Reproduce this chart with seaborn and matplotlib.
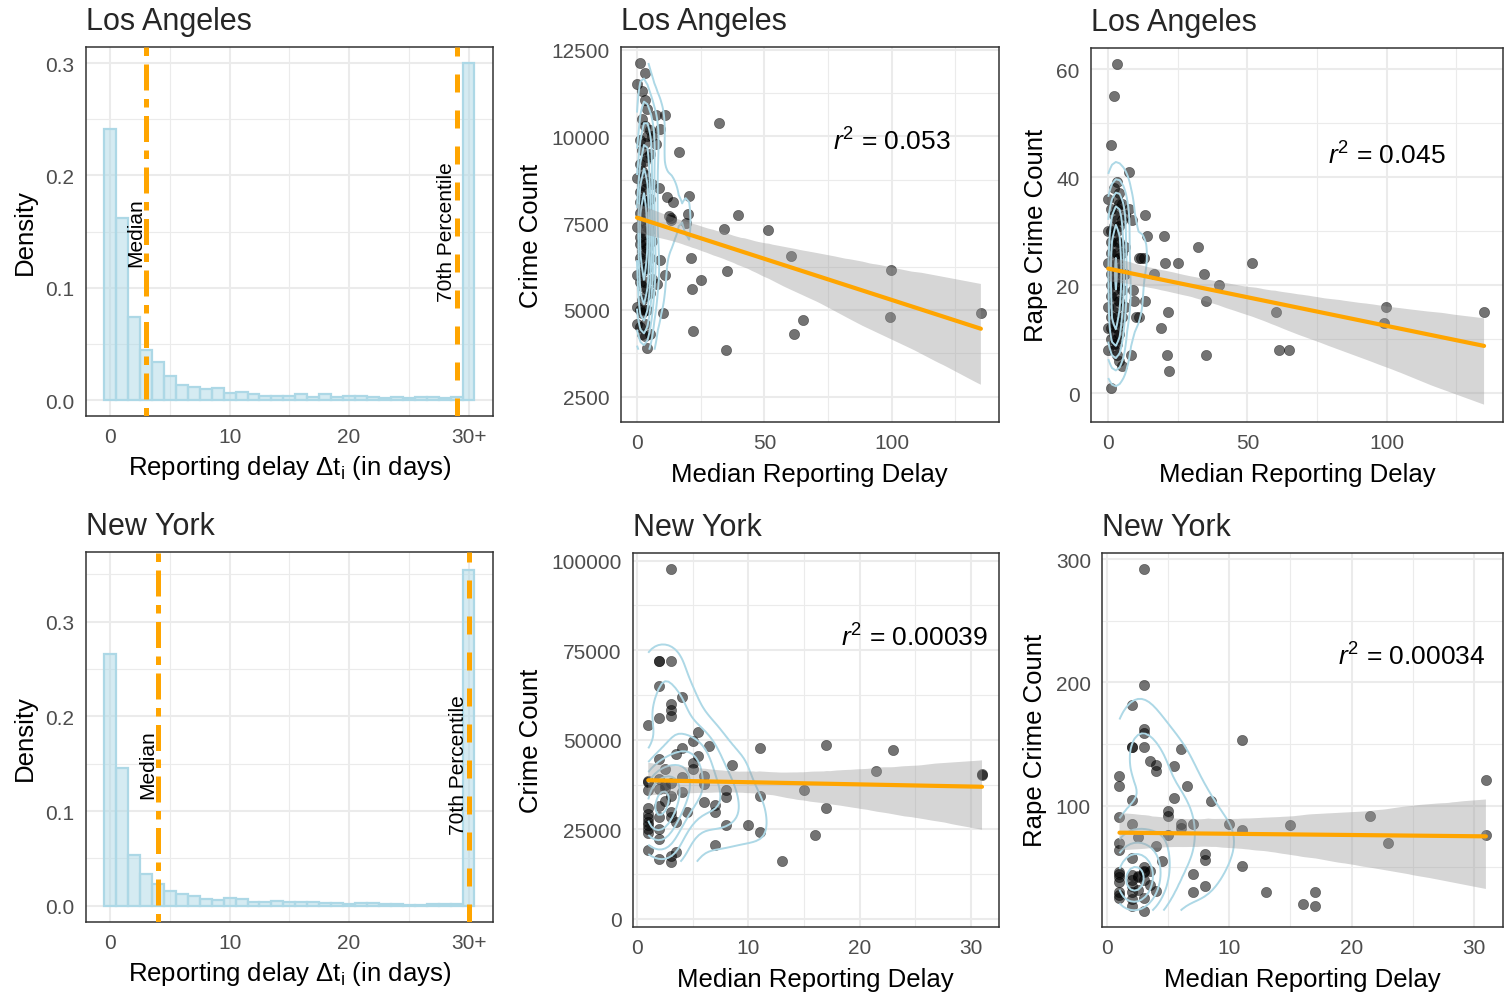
import numpy as np
import pandas as pd
import matplotlib
matplotlib.use("Agg")
import matplotlib.pyplot as plt
import seaborn as sns
from matplotlib.ticker import FixedLocator, MaxNLocator

# ---------------- data ----------------
hist_days = list(range(31))
hist_tick_labels = ["0", "10", "20", "30+"]
la_hist_density = [0.241, 0.162, 0.074, 0.045, 0.034, 0.021, 0.013, 0.012, 0.010, 0.011,
                   0.006, 0.007, 0.005, 0.004, 0.004, 0.004, 0.005, 0.003, 0.005, 0.003,
                   0.004, 0.004, 0.003, 0.002, 0.003, 0.002, 0.003, 0.003, 0.002, 0.003, 0.300]
ny_hist_density = [0.266, 0.145, 0.054, 0.033, 0.023, 0.015, 0.012, 0.010, 0.007, 0.006,
                   0.008, 0.007, 0.004, 0.004, 0.005, 0.004, 0.004, 0.004, 0.003, 0.003,
                   0.002, 0.003, 0.003, 0.002, 0.002, 0.001, 0.001, 0.002, 0.002, 0.002, 0.355]
la_median, la_p70 = 3, 29
ny_median, ny_p70 = 4, 30

la_delay = [0, 0, 0, 0, 0, 0,
            1, 1, 1, 1, 1, 1, 1, 1, 1, 1, 1, 1,
            2, 2, 2, 2, 2, 2, 2, 2, 2, 2, 2, 2, 2, 2, 2, 2, 2,
            3, 3, 3, 3, 3, 3, 3, 3, 3, 3, 3, 3, 3, 3, 3, 3, 3, 3, 3,
            4, 4, 4, 4, 4, 4, 4, 4, 4, 4, 4,
            5, 5, 5, 5, 5, 5, 5,
            6, 6, 6, 6,
            7.3, 7.3, 8.0, 8.6, 9.0, 9.2, 10.1, 11.0, 11.0, 11.6, 12.7, 13.2, 13.2, 14.1,
            16.6, 19.1, 20.0, 20.5, 21.2, 21.6, 22.0, 25.1, 32.2, 34.3, 35.1, 35.2, 39.8,
            51.6, 60.3, 61.5, 65.0, 99.2, 99.6, 135.0]
la_crime = [11511, 8800, 7400, 6000, 5100, 4595,
            12117, 9900, 9200, 8400, 8100, 7800, 7100, 6900, 6500, 5800, 5000, 4500,
            11300, 10500, 9600, 9000, 8600, 8200, 7900, 7600, 7300, 7000, 6700, 6400, 6100, 5700, 5300, 4900, 4300,
            11820, 11050, 10300, 9800, 9300, 8900, 8500, 8100, 7800, 7500, 7200, 6900, 6600, 6200, 5800, 5400, 5000, 4600, 4250,
            10800, 10000, 9400, 8700, 8000, 7400, 6800, 6200, 5600, 5000, 3903,
            10200, 9500, 8200, 7300, 6500, 5500, 4307,
            10000, 8630, 6995, 5900,
            10627, 9781, 5747, 8505, 6448, 10214, 4911, 10627, 6006, 8245, 7697, 7600, 7650, 8100,
            9560, 7495, 7755, 8293, 6486, 5603, 4383, 5853, 10387, 7332, 3855, 6112, 7735,
            7293, 6563, 4306, 4710, 4786, 6150, 4911]
la_rape = [36, 30, 24, 8, 16, 12,
           46, 34, 30, 26, 28, 22, 20, 14, 18, 12, 10, 1,
           55, 38, 33, 31, 29, 27, 25, 23, 22, 21, 19, 17, 15, 13, 11, 9, 8,
           61, 39, 36, 34, 32, 30, 28, 26, 24, 23, 21, 20, 18, 16, 14, 12, 10, 9, 7,
           37, 35, 31, 28, 25, 23, 20, 17, 13, 11, 6,
           35, 32, 26, 22, 19, 14, 5,
           33, 27, 22, 16,
           41, 34, 7, 32, 19, 17, 14, 25, 14, 25, 25, 33, 17, 29,
           22, 12, 29, 24, 7, 15, 4, 24, 27, 22, 7, 17, 20,
           24, 15, 8, 8, 13, 16, 15]

ny_delay = [1, 1, 1, 1, 1, 1, 1, 1, 1, 1, 1, 1,
            2, 2, 2, 2, 2, 2, 2, 2, 2, 2, 2, 2,
            2.5, 2.5, 2.5, 2.5,
            3, 3, 3, 3, 3, 3, 3, 3, 3, 3, 3,
            3.5, 3.5, 3.5,
            4, 4, 4, 4,
            4.5,
            5, 5, 5,
            5.5, 5.5,
            6, 6, 6,
            6.5,
            7, 7, 7,
            8, 8, 8,
            8.5, 10, 11, 11, 11, 13, 15, 16, 17, 17, 21.5, 23, 31, 31]
ny_crime = [54200, 38100, 38500, 36000, 30900, 29300, 28100, 27000, 26200, 25100, 24000, 19300,
            72100, 72100, 64900, 56100, 44650, 39000, 36300, 31400, 28400, 25100, 22300, 16700,
            41900, 37500, 36700, 33000,
            97700, 72100, 60000, 58400, 56700, 38000, 34400, 29950, 28400, 17700, 16000,
            46000, 27200, 18600,
            61900, 47600, 39600, 35500,
            29800,
            49800, 43500, 41900,
            52100, 45500,
            40000, 37700, 32600,
            48400,
            31800, 29800, 20700,
            36100, 34000, 26200,
            43100, 26300, 47600, 34200, 24400, 16300, 36100, 23400, 48500, 30900, 41400, 47300, 40500, 40300]
ny_rape = [124, 116, 30, 91, 70, 64, 46, 45, 42, 38, 28, 25,
           182, 148, 148, 105, 85, 44, 58, 40, 35, 30, 24, 19,
           75, 42, 43, 32,
           292, 198, 162, 159, 148, 46, 50, 47, 40, 25, 15,
           136, 47, 36,
           133, 128, 67, 31,
           55,
           96, 92, 76,
           132, 106,
           146, 85, 82,
           116,
           85, 45, 30,
           61, 56, 35,
           104, 85, 153, 80, 51, 30, 84, 20, 30, 19, 92, 70, 121, 76]

r2_labels = {"la_crime": "0.053", "la_rape": "0.045", "ny_crime": "0.00039", "ny_rape": "0.00034"}
city_titles = ["Los Angeles", "New York"]

la = pd.DataFrame({"delay": la_delay, "crime": la_crime, "rape": la_rape})
ny = pd.DataFrame({"delay": ny_delay, "crime": ny_crime, "rape": ny_rape})

# ---------------- style ----------------
sns.set_style("white")
plt.rcParams["font.family"] = ["Liberation Sans", "DejaVu Sans"]
plt.rcParams["mathtext.fontset"] = "custom"
plt.rcParams["mathtext.rm"] = "Liberation Sans"
plt.rcParams["mathtext.it"] = "Liberation Sans:italic"
plt.rcParams["mathtext.bf"] = "Liberation Sans:bold"

ORANGE = "#FFA500"
LBLUE = "#ADD8E6"
W, H = 1511, 995


def add_ax(fig, l, t, r, b):
    return fig.add_axes([l / W, 1 - b / H, (r - l) / W, (b - t) / H])


def style_ax(ax, xmaj, xmin, ymaj, ymin, xlim, ylim):
    ax.set_xlim(xlim)
    ax.set_ylim(ylim)
    ax.xaxis.set_major_locator(FixedLocator(xmaj))
    ax.xaxis.set_minor_locator(FixedLocator(xmin))
    ax.yaxis.set_major_locator(FixedLocator(ymaj))
    ax.yaxis.set_minor_locator(FixedLocator(ymin))
    ax.grid(which="major", color="#EBEBEB", lw=1.5)
    ax.grid(which="minor", color="#EBEBEB", lw=0.8)
    ax.set_axisbelow(True)
    for s in ax.spines.values():
        s.set_visible(True)
        s.set_color("#333333")
        s.set_linewidth(1.1)
    ax.tick_params(which="major", length=5, width=1.1, color="#333333",
                   labelsize=15, labelcolor="#4D4D4D", direction="out", pad=3)
    ax.tick_params(which="minor", length=0)


def kde2d(x, y, n=100):
    x = np.asarray(x, float)
    y = np.asarray(y, float)

    def bw(v):
        q75, q25 = np.percentile(v, [75, 25])
        s = min(np.std(v, ddof=1), (q75 - q25) / 1.34)
        if s <= 0:
            s = np.std(v, ddof=1)
        return 1.06 * s * len(v) ** (-0.2)

    hx, hy = bw(x), bw(y)
    gx = np.linspace(x.min(), x.max(), n)
    gy = np.linspace(y.min(), y.max(), n)
    kx = np.exp(-0.5 * ((gx[:, None] - x[None, :]) / hx) ** 2)
    ky = np.exp(-0.5 * ((gy[:, None] - y[None, :]) / hy) ** 2)
    z = kx @ ky.T / (len(x) * 2 * np.pi * hx * hy)
    return gx, gy, z.T


fig = plt.figure(figsize=(W / 100, H / 100), dpi=100)

# ---------------- histograms ----------------
hist_specs = [
    (la_hist_density, la_median, la_p70, (85.7, 48, 493, 417), (-0.0142, 0.3143), [0.0, 0.1, 0.2, 0.3], [0.05, 0.15, 0.25], city_titles[0]),
    (ny_hist_density, ny_median, ny_p70, (85.7, 553, 493, 922.7), (-0.0169, 0.3736), [0.0, 0.1, 0.2, 0.3], [0.05, 0.15, 0.25, 0.35], city_titles[1]),
]
for dens, med, p70, box, ylim, ymaj, ymin, title in hist_specs:
    ax = add_ax(fig, *box)
    hdf = pd.DataFrame({"day": hist_days, "density": dens})
    sns.histplot(data=hdf, x="day", weights="density", discrete=True, stat="count",
                 color=LBLUE, edgecolor=LBLUE, linewidth=1.6, alpha=1, ax=ax)
    for p in ax.patches:
        p.set_facecolor((173 / 255, 216 / 255, 230 / 255, 0.5))
        p.set_edgecolor(LBLUE)
    ax.axvline(med, color=ORANGE, lw=3.6, dashes=(1.7, 1.7, 5.2, 1.7), zorder=4)
    ax.axvline(p70, color=ORANGE, lw=3.6, dashes=(3.6, 3.6), zorder=4)
    ax.text(med - 0.85, 0.15, "Median", rotation=90, ha="center", va="center", fontsize=15, color="black", zorder=5)
    ax.text(p70 - 0.85, 0.15, "70th Percentile", rotation=90, ha="center", va="center", fontsize=15, color="black", zorder=5)
    style_ax(ax, [0, 10, 20, 30], [5, 15, 25], ymaj, ymin, (-2.05, 32.05), ylim)
    ax.set_xticklabels(hist_tick_labels)
    ax.set_yticklabels([f"{v:.1f}" for v in ymaj])
    ax.set_xlabel(r"Reporting delay Δt$_\mathregular{i}$ (in days)", fontsize=18.5, color="black", labelpad=5)
    ax.set_ylabel("Density", fontsize=18.5, color="black", labelpad=6)
    ax.set_title(title, loc="left", fontsize=22, pad=13)

# ---------------- scatter panels ----------------
scatter_specs = [
    (la, "crime", (620.7, 48.3, 998.7, 422.7), [0, 50, 100], [25, 75, 125], [2500, 5000, 7500, 10000, 12500],
     [3750, 6250, 8750, 11250], (-6.4, 142), (1780, 12570), "Crime Count", r2_labels["la_crime"], (0.717, 0.75), city_titles[0]),
    (la, "rape", (1090.7, 49, 1503, 422.7), [0, 50, 100], [25, 75, 125], [0, 20, 40, 60],
     [10, 30, 50], (-6.3, 141.8), (-5.3, 63.9), "Rape Crime Count", r2_labels["la_rape"], (0.718, 0.714), city_titles[0]),
    (ny, "crime", (632.7, 554, 998.7, 927.7), [0, 10, 20, 30], [5, 15, 25], [0, 25000, 50000, 75000, 100000],
     [12500, 37500, 62500, 87500], (-0.4, 32.5), (-2150, 102150), "Crime Count", r2_labels["ny_crime"], (0.771, 0.775), city_titles[1]),
    (ny, "rape", (1102, 554, 1503, 927.7), [0, 10, 20, 30], [5, 15, 25], [100, 200, 300],
     [50, 150, 250], (-0.43, 32.4), (1.9, 304.9), "Rape Crime Count", r2_labels["ny_rape"], (0.772, 0.724), city_titles[1]),
]
for df, col, box, xmaj, xmin, ymaj, ymin, xlim, ylim, ylabel, r2, r2pos, title in scatter_specs:
    ax = add_ax(fig, *box)
    sns.scatterplot(data=df, x="delay", y=col, color="black", alpha=0.55, s=55,
                    edgecolor="black", linewidth=0.4, ax=ax, zorder=2)
    gx, gy, z = kde2d(df["delay"], df[col])
    levels = MaxNLocator(nbins=10, steps=[1, 2, 2.5, 5, 10]).tick_values(0, z.max())
    levels = [lv for lv in levels if 0 < lv < z.max()]
    ax.contour(gx, gy, z, levels=levels, colors=LBLUE, linewidths=1.4, zorder=3)
    n_before = len(ax.collections)
    sns.regplot(data=df, x="delay", y=col, scatter=False, ci=95, n_boot=1000, seed=3,
                color="black", line_kws={"color": ORANGE, "lw": 3, "zorder": 5}, ax=ax)
    for c in ax.collections[n_before:]:
        c.set_alpha(0.4)
        c.set_facecolor((0.6, 0.6, 0.6))
        c.set_edgecolor("none")
        c.set_zorder(4)
    style_ax(ax, xmaj, xmin, ymaj, ymin, xlim, ylim)
    ax.set_xticklabels([str(v) for v in xmaj])
    ax.set_yticklabels([str(v) for v in ymaj])
    ax.set_xlabel("Median Reporting Delay", fontsize=18.5, color="black", labelpad=7)
    ax.set_ylabel(ylabel, fontsize=18.5, color="black", labelpad=6)
    ax.text(r2pos[0], r2pos[1], r"$\mathit{r}^{2}$ = " + r2, transform=ax.transAxes,
            ha="center", va="center", fontsize=19, color="black", zorder=6)
    ax.set_title(title, loc="left", fontsize=22, pad=13)

fig.savefig("out.png", dpi=100)
